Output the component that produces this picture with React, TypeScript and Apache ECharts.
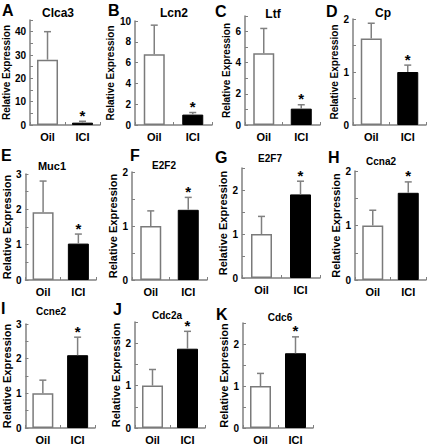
import React, { useEffect, useRef } from "react";
import * as echarts from "echarts";

const FONT = "'Liberation Sans', Arial, sans-serif";

const categories = ["Oil", "ICI"];
const genes = ["Clca3", "Lcn2", "Ltf", "Cp", "Muc1", "E2F2", "E2F7", "Ccna2", "Ccne2", "Cdc2a", "Cdc6"];
const letters = ["A", "B", "C", "D", "E", "F", "G", "H", "I", "J", "K"];
const oilMean = [28, 6.8, 4.6, 1.63, 1.92, 1.0, 1.0, 1.0, 1.0, 1.0, 1.0];
const oilErr = [12, 2.8, 1.6, 0.29, 0.88, 0.28, 0.4, 0.28, 0.38, 0.38, 0.3];
const iciMean = [1.0, 1.0, 1.05, 1.0, 1.03, 1.3, 1.9, 1.6, 2.1, 1.87, 1.78];
const iciErr = [0.6, 0.2, 0.25, 0.13, 0.27, 0.23, 0.3, 0.2, 0.52, 0.41, 0.39];
const iciSignificant = [1, 1, 1, 1, 1, 1, 1, 1, 1, 1, 1];
const yMax = [45, 10, 7, 2, 3, 2, 2.5, 2, 3, 2.5, 2.5];
const yTickStep = [5, 2, 1, 0.5, 0.5, 0.5, 0.5, 0.5, 0.5, 0.5, 0.5];
const yLabelStep = [10, 2, 2, 1, 1, 1, 1, 1, 1, 1, 1];

// layout (pixels): grid left, top, width, height
const boxes = [
  [25, 20, 75, 105],
  [135, 21, 77, 104],
  [245, 16, 75, 109],
  [353, 19, 73, 106],
  [21, 174, 75, 106],
  [132, 172, 75, 108],
  [242, 168, 78, 110],
  [355, 171, 71, 109],
  [21, 324, 74, 108],
  [135, 322, 70, 111],
  [243, 323, 70, 109],
];
const nameGaps = [12, 14, 14, 10, 12, 10, 13, 10, 12, 12, 12];
const letterPos = [
  [2, 10], [108, 10], [215, 11], [326, 11],
  [1, 155], [130, 155], [215, 157], [328, 157],
  [1, 308], [113, 309], [216, 314],
];
const titlePos = [
  [58, 13], [174, 13], [273, 14], [383, 13],
  [52, 166], [164, 165], [270, 158], [381, 161],
  [51, 311], [167, 315], [280, 317],
];
const titleSize = [12, 12, 12, 12, 11, 10, 10, 10, 10, 10, 10];

const AXIS_COLOR = "#808080";

function isMultiple(v: number, step: number) {
  const r = v / step;
  return Math.abs(r - Math.round(r)) < 1e-6;
}

function renderErr(params: any, api: any) {
  const x = api.value(0);
  const m = api.value(1);
  const e = api.value(2);
  const s = api.value(3);
  const p0 = api.coord([x, m]);
  const p1 = api.coord([x, m + e]);
  const children: any[] = [
    {
      type: "line",
      shape: { x1: p0[0], y1: p0[1], x2: p1[0], y2: p1[1] },
      style: { stroke: AXIS_COLOR, lineWidth: 1.5 },
    },
    {
      type: "line",
      shape: { x1: p1[0] - 3.5, y1: p1[1], x2: p1[0] + 3.5, y2: p1[1] },
      style: { stroke: AXIS_COLOR, lineWidth: 1.5 },
    },
  ];
  if (s) {
    children.push({
      type: "text",
      x: p1[0],
      y: p1[1] - 6,
      style: {
        text: "*",
        fill: "#000",
        fontSize: 15,
        fontWeight: "bold",
        fontFamily: FONT,
        textAlign: "center",
        textVerticalAlign: "middle",
        verticalAlign: "middle",
      },
    });
  }
  return { type: "group", children };
}

export default function App() {
  const ref = useRef<HTMLDivElement>(null);
  useEffect(() => {
    if (!ref.current) return;
    const chart = echarts.init(ref.current, undefined, { renderer: "svg" });
    const n = genes.length;
    const grid: any[] = [];
    const xAxis: any[] = [];
    const yAxis: any[] = [];
    const series: any[] = [];
    const graphic: any[] = [];
    for (let i = 0; i < n; i++) {
      const b = boxes[i];
      grid.push({ left: b[0], top: b[1], width: b[2], height: b[3] });
      xAxis.push({
        type: "category",
        gridIndex: i,
        data: categories,
        axisLine: { lineStyle: { color: AXIS_COLOR, width: 1.5 } },
        axisTick: { show: true, inside: true, length: 3, lineStyle: { color: AXIS_COLOR } },
        axisLabel: { color: "#000", fontWeight: "bold", fontSize: 11, fontFamily: FONT, margin: 6 },
      });
      const step = yLabelStep[i];
      yAxis.push({
        type: "value",
        gridIndex: i,
        min: 0,
        max: yMax[i],
        interval: yTickStep[i],
        splitLine: { show: false },
        axisLine: { show: true, lineStyle: { color: AXIS_COLOR, width: 1.5 } },
        axisTick: { show: true, inside: true, length: 3, lineStyle: { color: AXIS_COLOR } },
        axisLabel: {
          color: "#000",
          fontWeight: "bold",
          fontSize: 10,
          fontFamily: FONT,
          margin: 4,
          formatter: (v: number) => (isMultiple(v, step) ? String(v) : ""),
        },
        name: "Relative Expression",
        nameLocation: "middle",
        nameGap: nameGaps[i],
        nameTextStyle: {
          color: "#000",
          fontWeight: "bold",
          fontSize: i < 4 ? 10 : 11,
          fontFamily: FONT,
        },
      });
      series.push({
        type: "bar",
        xAxisIndex: i,
        yAxisIndex: i,
        barWidth: 21,
        data: [
          {
            value: oilMean[i],
            itemStyle: { color: "#fff", borderColor: "#7a7a7a", borderWidth: 1.5 },
          },
          {
            value: iciMean[i],
            itemStyle: { color: "#000", borderColor: "#000", borderWidth: 1 },
          },
        ],
      });
      series.push({
        type: "custom",
        xAxisIndex: i,
        yAxisIndex: i,
        z: 10,
        clip: false,
        renderItem: renderErr,
        data: [
          [0, oilMean[i], oilErr[i], 0],
          [1, iciMean[i], iciErr[i], iciSignificant[i]],
        ],
      });
      graphic.push({
        type: "text",
        x: letterPos[i][0],
        y: letterPos[i][1],
        style: {
          text: letters[i],
          fill: "#000",
          fontSize: 16,
          fontWeight: "bold",
          fontFamily: FONT,
          textAlign: "left",
          textVerticalAlign: "middle",
          verticalAlign: "middle",
        },
      });
      graphic.push({
        type: "text",
        x: titlePos[i][0],
        y: titlePos[i][1],
        style: {
          text: genes[i],
          fill: "#000",
          fontSize: titleSize[i],
          fontWeight: "bold",
          fontFamily: FONT,
          textAlign: "center",
          textVerticalAlign: "middle",
          verticalAlign: "middle",
        },
      });
    }
    chart.setOption({
      animation: false,
      backgroundColor: "#fff",
      grid,
      xAxis,
      yAxis,
      series,
      graphic,
    });
    return () => chart.dispose();
  }, []);
  return (
    <div
      ref={ref}
      style={{ position: "fixed", left: 0, top: 0, width: 427, height: 445, background: "#fff" }}
    />
  );
}
